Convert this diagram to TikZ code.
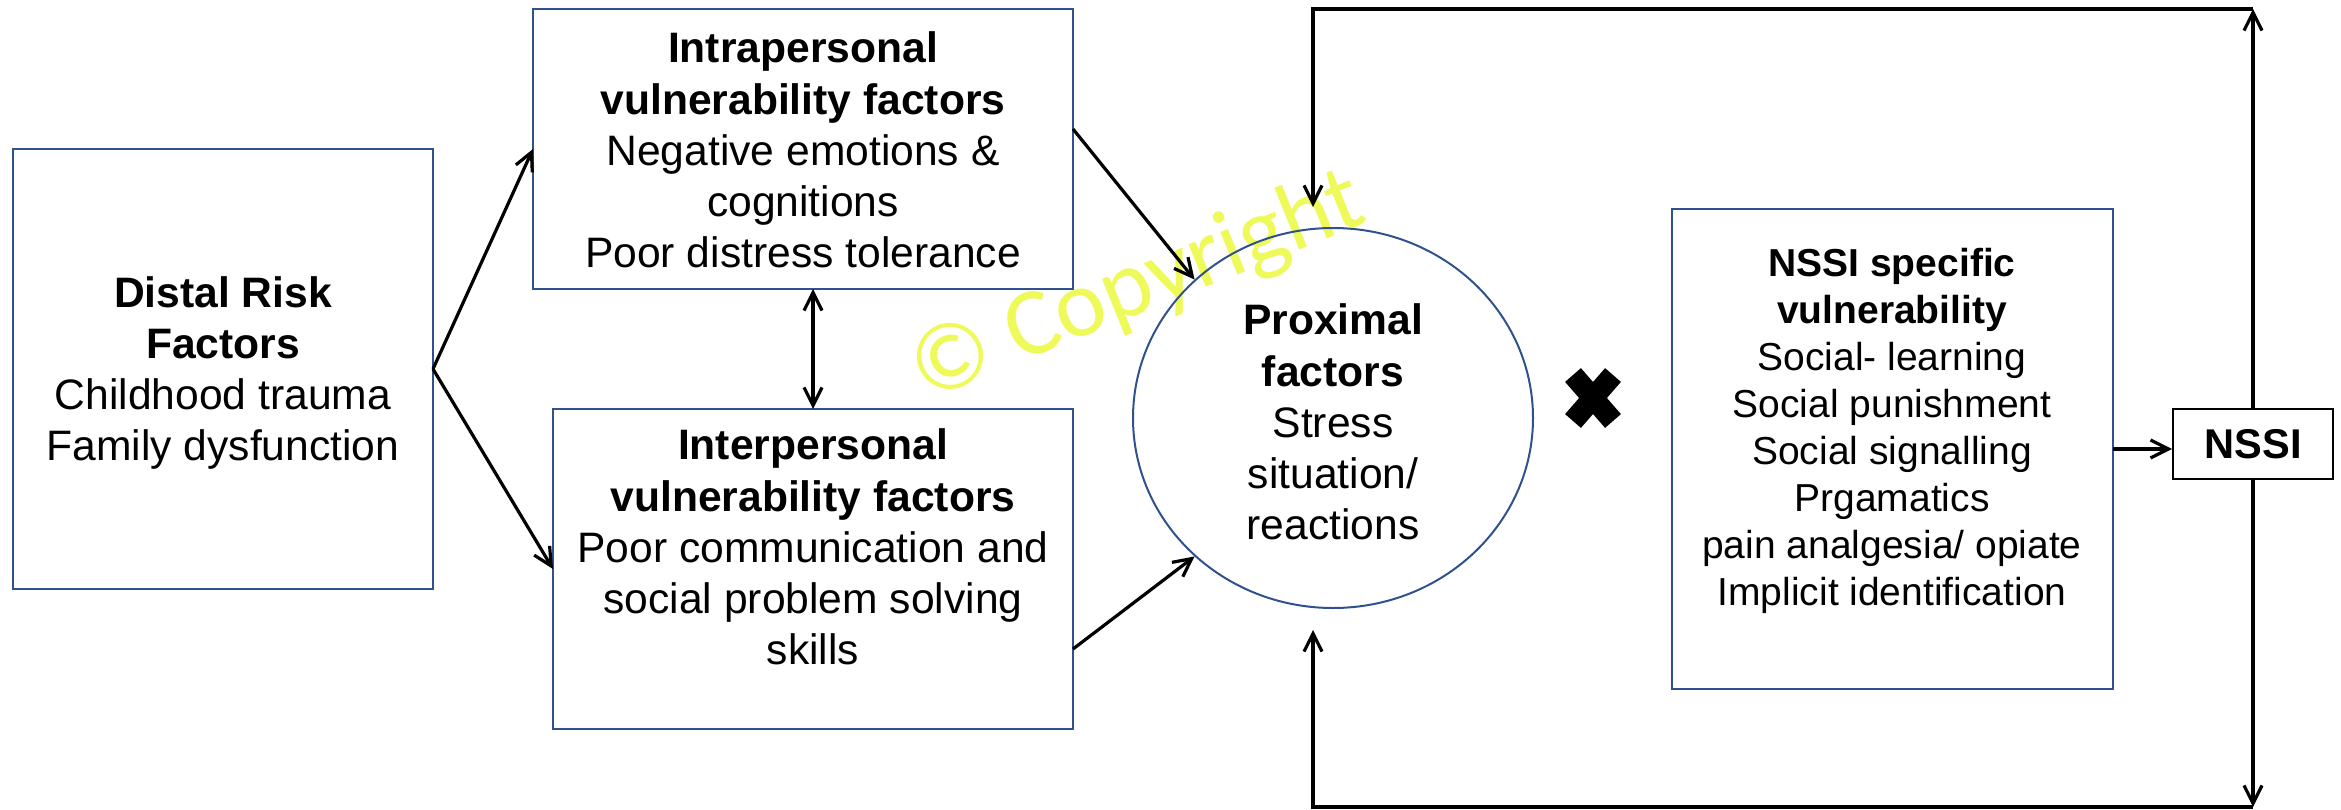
\documentclass[tikz,border=0pt]{standalone}
\usepackage{fontspec}
\setmainfont{Liberation Sans}
\newfontfamily\wmfont{Carlito}
\usetikzlibrary{shapes.geometric,arrows.meta,calc}
\definecolor{boxblue}{RGB}{47,82,143}
\definecolor{wmyellow}{RGB}{238,250,90}
\begin{document}
\begin{tikzpicture}[x=0.5pt,y=-0.5pt,
  >={Straight Barb[length=9pt,width=9pt]},
  box/.style={draw=boxblue,line width=1.2pt,rectangle,inner sep=0pt,outer sep=0pt},
  txt/.style={align=center,font=\fontsize{21.3}{25.6}\selectfont,inner sep=0pt},
  stxt/.style={align=center,font=\fontsize{19.5}{23.5}\selectfont,inner sep=0pt},
  arr/.style={draw=black,line width=1.6pt,->},
  darr/.style={draw=black,line width=1.6pt,<->},
  crossbar/.style={draw=black,line width=10.5pt,line cap=butt}]
\useasboundingbox (0,0) rectangle (2341,809);

% watermark
\node[rotate=22,text=wmyellow,inner sep=0pt,font=\wmfont\fontsize{48}{50}\selectfont] (wm) at (1138,288) {© Copyright};

% boxes
\node[box,minimum width=210pt,minimum height=220pt] (distal) at (223,369) {};
\node[txt] (distalT) at (223,373) {\textbf{Distal Risk}\\\textbf{Factors}\\Childhood trauma\\Family dysfunction};

\node[box,minimum width=270pt,minimum height=140pt] (intra) at (803,149) {};
\node[txt] (intraT) at (803,150) {\textbf{Intrapersonal}\\\textbf{vulnerability factors}\\Negative emotions \&\\cognitions\\Poor distress tolerance};

\node[box,minimum width=260pt,minimum height=160pt] (inter) at (813,569) {};
\node[txt] (interT) at (813,547) {\textbf{Interpersonal}\\\textbf{vulnerability factors}\\Poor communication and\\social problem solving\\skills};

\node[ellipse,draw=boxblue,line width=1pt,minimum width=200pt,minimum height=190pt,inner sep=0pt] (prox) at (1333,418) {};
\node[txt] (proxT) at (1333,422) {\textbf{Proximal}\\\textbf{factors}\\Stress\\situation/\\reactions};

\node[box,minimum width=220.5pt,minimum height=240pt] (spec) at (1892.5,449) {};
\node[stxt] (specT) at (1892,431) {\textbf{NSSI specific}\\\textbf{vulnerability}\\Social- learning\\Social punishment\\Social signalling\\Prgamatics\\pain analgesia/ opiate\\Implicit identification};

\node[draw=black,line width=0.9pt,minimum width=80pt,minimum height=35pt,inner sep=0pt,font=\bfseries\fontsize{20.8}{24}\selectfont] (nssi) at (2253,444) {NSSI};

% cross mark
\coordinate (xc) at (1593,398);
\draw[crossbar] ($(xc)+(-20,-23)$) -- ($(xc)+(20,23)$);
\draw[crossbar] ($(xc)+(20,-23)$) -- ($(xc)+(-20,23)$);

% feedback loop corners
\coordinate (tl) at (1313,9);
\coordinate (tr) at (2253,9);
\coordinate (ttip) at (1313,207);
\coordinate (bl) at (1313,807);
\coordinate (br) at (2253,807);
\coordinate (btip) at (1313,630);

% connectors
\draw[arr] (distal.east) -- (intra.west);
\draw[arr] (distal.east) -- (inter.west);
\draw[darr] (inter.north |- intra.south) -- (inter.north);
\draw[arr] ([yshift=10pt]intra.east) -- (prox.135);
\draw[arr] ([yshift=-40pt]inter.east) -- (prox.225);
\draw[arr] (spec.east) -- (spec.east -| nssi.west);
\draw[arr] (nssi.north) -- (tr);
\draw[arr] (tr) -- (tl) -- (ttip);
\draw[arr] (nssi.south) -- (br);
\draw[arr] (br) -- (bl) -- (btip);
\end{tikzpicture}
\end{document}
